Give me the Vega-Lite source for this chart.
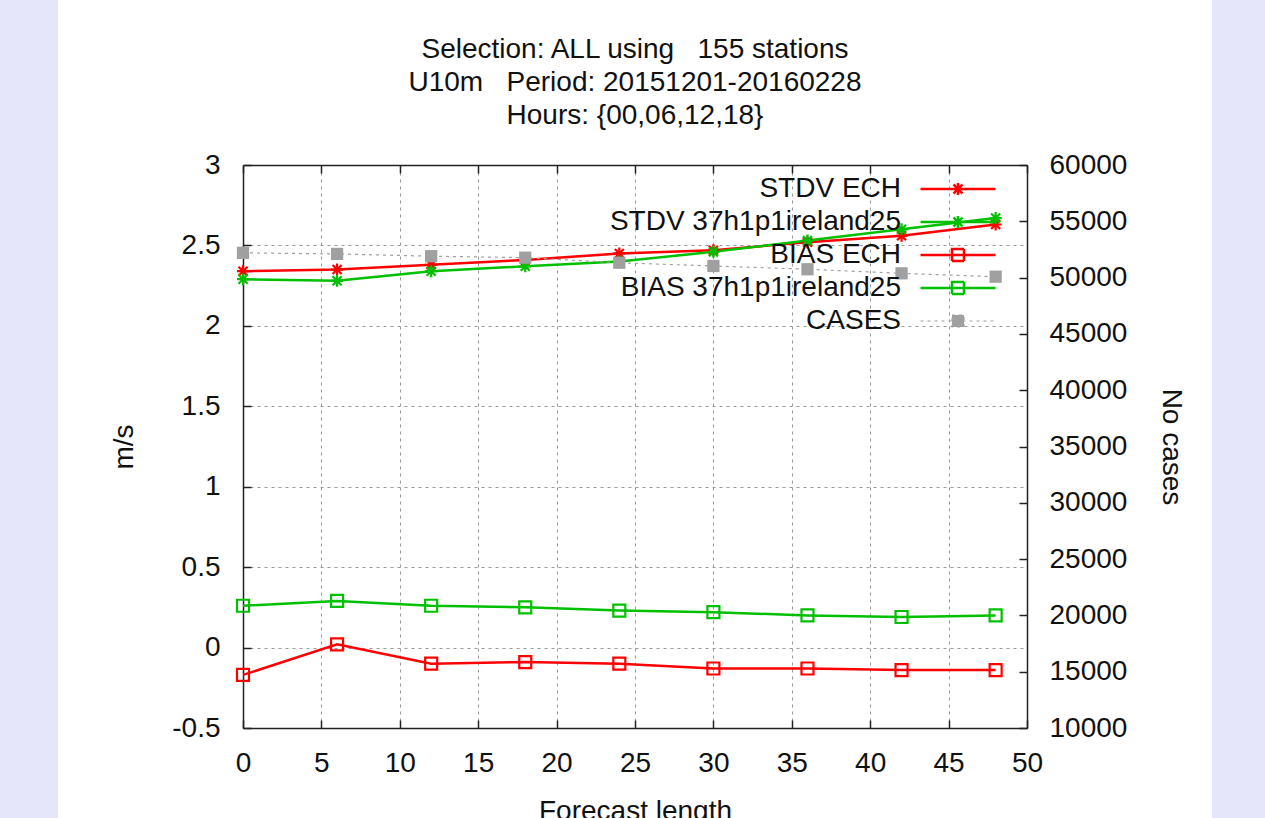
{
  "$schema": "https://vega.github.io/schema/vega-lite/v6.json",
  "width": 784,
  "height": 563,
  "autosize": {"type": "none"},
  "padding": {"left": 243, "top": 165, "right": 238, "bottom": 90},
  "background": "#e6e6fa",
  "config": {
    "font": "Liberation Sans",
    "view": {"fill": "white", "stroke": "white", "strokeWidth": 370},
    "axis": {
      "labelFont": "Liberation Sans",
      "titleFont": "Liberation Sans",
      "labelFontSize": 28,
      "titleFontSize": 28,
      "titleFontWeight": "normal",
      "labelColor": "#111",
      "titleColor": "#111",
      "domainColor": "#222",
      "domainWidth": 1.5,
      "tickColor": "#222",
      "tickWidth": 1.5,
      "tickSize": -8,
      "gridColor": "#999",
      "gridDash": [3, 4],
      "gridWidth": 1,
      "gridOpacity": 1
    }
  },
  "title": {
    "text": ["Selection: ALL using \u00a0\u00a0155 stations", "U10m \u00a0\u00a0Period: 20151201-20160228", "Hours: {00,06,12,18}"],
    "fontSize": 28,
    "fontWeight": "normal",
    "font": "Liberation Sans",
    "color": "#111",
    "lineHeight": 33,
    "anchor": "middle",
    "frame": "group",
    "offset": 21
  },
  "datasets": {
    "ms": [
      {"length": 0, "series": "STDV ECH", "value": 2.34},
      {"length": 6, "series": "STDV ECH", "value": 2.35},
      {"length": 12, "series": "STDV ECH", "value": 2.38},
      {"length": 18, "series": "STDV ECH", "value": 2.41},
      {"length": 24, "series": "STDV ECH", "value": 2.45},
      {"length": 30, "series": "STDV ECH", "value": 2.47},
      {"length": 36, "series": "STDV ECH", "value": 2.52},
      {"length": 42, "series": "STDV ECH", "value": 2.56},
      {"length": 48, "series": "STDV ECH", "value": 2.63},
      {"length": 0, "series": "STDV 37h1p1ireland25", "value": 2.29},
      {"length": 6, "series": "STDV 37h1p1ireland25", "value": 2.28},
      {"length": 12, "series": "STDV 37h1p1ireland25", "value": 2.34},
      {"length": 18, "series": "STDV 37h1p1ireland25", "value": 2.37},
      {"length": 24, "series": "STDV 37h1p1ireland25", "value": 2.40},
      {"length": 30, "series": "STDV 37h1p1ireland25", "value": 2.46},
      {"length": 36, "series": "STDV 37h1p1ireland25", "value": 2.53},
      {"length": 42, "series": "STDV 37h1p1ireland25", "value": 2.60},
      {"length": 48, "series": "STDV 37h1p1ireland25", "value": 2.67},
      {"length": 0, "series": "BIAS ECH", "value": -0.17},
      {"length": 6, "series": "BIAS ECH", "value": 0.02},
      {"length": 12, "series": "BIAS ECH", "value": -0.10},
      {"length": 18, "series": "BIAS ECH", "value": -0.09},
      {"length": 24, "series": "BIAS ECH", "value": -0.10},
      {"length": 30, "series": "BIAS ECH", "value": -0.13},
      {"length": 36, "series": "BIAS ECH", "value": -0.13},
      {"length": 42, "series": "BIAS ECH", "value": -0.14},
      {"length": 48, "series": "BIAS ECH", "value": -0.14},
      {"length": 0, "series": "BIAS 37h1p1ireland25", "value": 0.26},
      {"length": 6, "series": "BIAS 37h1p1ireland25", "value": 0.29},
      {"length": 12, "series": "BIAS 37h1p1ireland25", "value": 0.26},
      {"length": 18, "series": "BIAS 37h1p1ireland25", "value": 0.25},
      {"length": 24, "series": "BIAS 37h1p1ireland25", "value": 0.23},
      {"length": 30, "series": "BIAS 37h1p1ireland25", "value": 0.22},
      {"length": 36, "series": "BIAS 37h1p1ireland25", "value": 0.20},
      {"length": 42, "series": "BIAS 37h1p1ireland25", "value": 0.19},
      {"length": 48, "series": "BIAS 37h1p1ireland25", "value": 0.20}
    ],
    "cases": [
      {"length": 0, "series": "CASES", "cases": 52200},
      {"length": 6, "series": "CASES", "cases": 52100},
      {"length": 12, "series": "CASES", "cases": 51900},
      {"length": 18, "series": "CASES", "cases": 51770},
      {"length": 24, "series": "CASES", "cases": 51320},
      {"length": 30, "series": "CASES", "cases": 51030},
      {"length": 36, "series": "CASES", "cases": 50740},
      {"length": 42, "series": "CASES", "cases": 50380},
      {"length": 48, "series": "CASES", "cases": 50080}
    ]
  },
  "layer": [
    {
      "data": {"name": "ms"},
      "encoding": {
        "x": {
          "field": "length", "type": "quantitative",
          "scale": {"domain": [0, 50], "nice": false, "zero": false},
          "axis": {"orient": "bottom", "values": [0, 5, 10, 15, 20, 25, 30, 35, 40, 45, 50], "title": "Forecast length", "grid": true, "labelPadding": 29, "titlePadding": 20, "labelFlush": false, "labelExpr": "'' + datum.value"}
        },
        "y": {
          "field": "value", "type": "quantitative",
          "scale": {"domain": [-0.5, 3], "nice": false, "zero": false},
          "axis": {"orient": "left", "values": [-0.5, 0, 0.5, 1, 1.5, 2, 2.5, 3], "title": "m/s", "grid": true, "labelPadding": 31, "titlePadding": 33, "labelFlush": false, "labelExpr": "'' + datum.value"}
        },
        "color": {
          "field": "series", "type": "nominal",
          "scale": {
            "domain": ["STDV ECH", "STDV 37h1p1ireland25", "BIAS ECH", "BIAS 37h1p1ireland25", "CASES"],
            "range": ["#ff0000", "#00c000", "#ff0000", "#00c000", "#a0a0a0"]
          },
          "legend": {
            "orient": "none",
            "legendX": 701,
            "legendY": 10,
            "title": null,
            "padding": 0,
            "labelAlign": "right",
            "labelOffset": -71,
            "labelFontSize": 28,
            "labelFont": "Liberation Sans",
            "labelColor": "#111",
            "labelLimit": 600,
            "symbolSize": 144,
            "symbolStrokeWidth": 2.5,
            "rowPadding": 5,
            "encode": {
              "symbols": {
                "update": {
                  "shape": {"signal": "(datum.value === 'STDV ECH' || datum.value === 'STDV 37h1p1ireland25') ? 'M-6.25,0H6.25M0,-1V1M-1,0H1M-0.75,-0.75L0.75,0.75M-0.75,0.75L0.75,-0.75' : 'M-6.25,0H6.25M-1,-1H1V1H-1Z'"},
                  "fill": {"signal": "datum.value === 'CASES' ? '#a0a0a0' : 'white'"},
                  "fillOpacity": {"signal": "datum.value === 'CASES' ? 1 : 0"},
                  "strokeDash": {"signal": "datum.value === 'CASES' ? [3, 4] : [1, 0]"},
                  "strokeWidth": {"signal": "datum.value === 'CASES' ? 1.2 : 2.5"},
                  "opacity": {"value": 1}
                }
              }
            }
          }
        }
      },
      "layer": [
        {"mark": {"type": "line", "strokeWidth": 2.5}},
        {
          "transform": [{"filter": {"field": "series", "oneOf": ["STDV ECH", "STDV 37h1p1ireland25"]}}],
          "mark": {"type": "point", "shape": "M0,-1V1M-1,0H1M-0.75,-0.75L0.75,0.75M-0.75,0.75L0.75,-0.75", "size": 144, "filled": false, "strokeWidth": 2.2, "opacity": 1}
        },
        {
          "transform": [{"filter": {"field": "series", "oneOf": ["BIAS ECH", "BIAS 37h1p1ireland25"]}}],
          "mark": {"type": "point", "shape": "square", "size": 144, "filled": false, "strokeWidth": 2.2, "opacity": 1}
        }
      ]
    },
    {
      "data": {"name": "cases"},
      "encoding": {
        "x": {
          "field": "length", "type": "quantitative",
          "axis": {"orient": "top", "values": [0, 5, 10, 15, 20, 25, 30, 35, 40, 45, 50], "labels": false, "title": null, "grid": false}
        },
        "y": {
          "field": "cases", "type": "quantitative",
          "scale": {"domain": [10000, 60000], "nice": false, "zero": false},
          "axis": {"orient": "right", "values": [10000, 15000, 20000, 25000, 30000, 35000, 40000, 45000, 50000, 55000, 60000], "title": "No cases", "grid": false, "labelPadding": 30, "titlePadding": 30, "labelFlush": false, "labelExpr": "'' + datum.value"}
        },
        "color": {"field": "series", "type": "nominal"}
      },
      "layer": [
        {"mark": {"type": "line", "strokeWidth": 1.2, "strokeDash": [3, 4]}},
        {"mark": {"type": "point", "shape": "square", "size": 150, "filled": true, "opacity": 1}}
      ]
    }
  ],
  "resolve": {"scale": {"y": "independent"}, "axis": {"x": "independent", "y": "independent"}}
}
